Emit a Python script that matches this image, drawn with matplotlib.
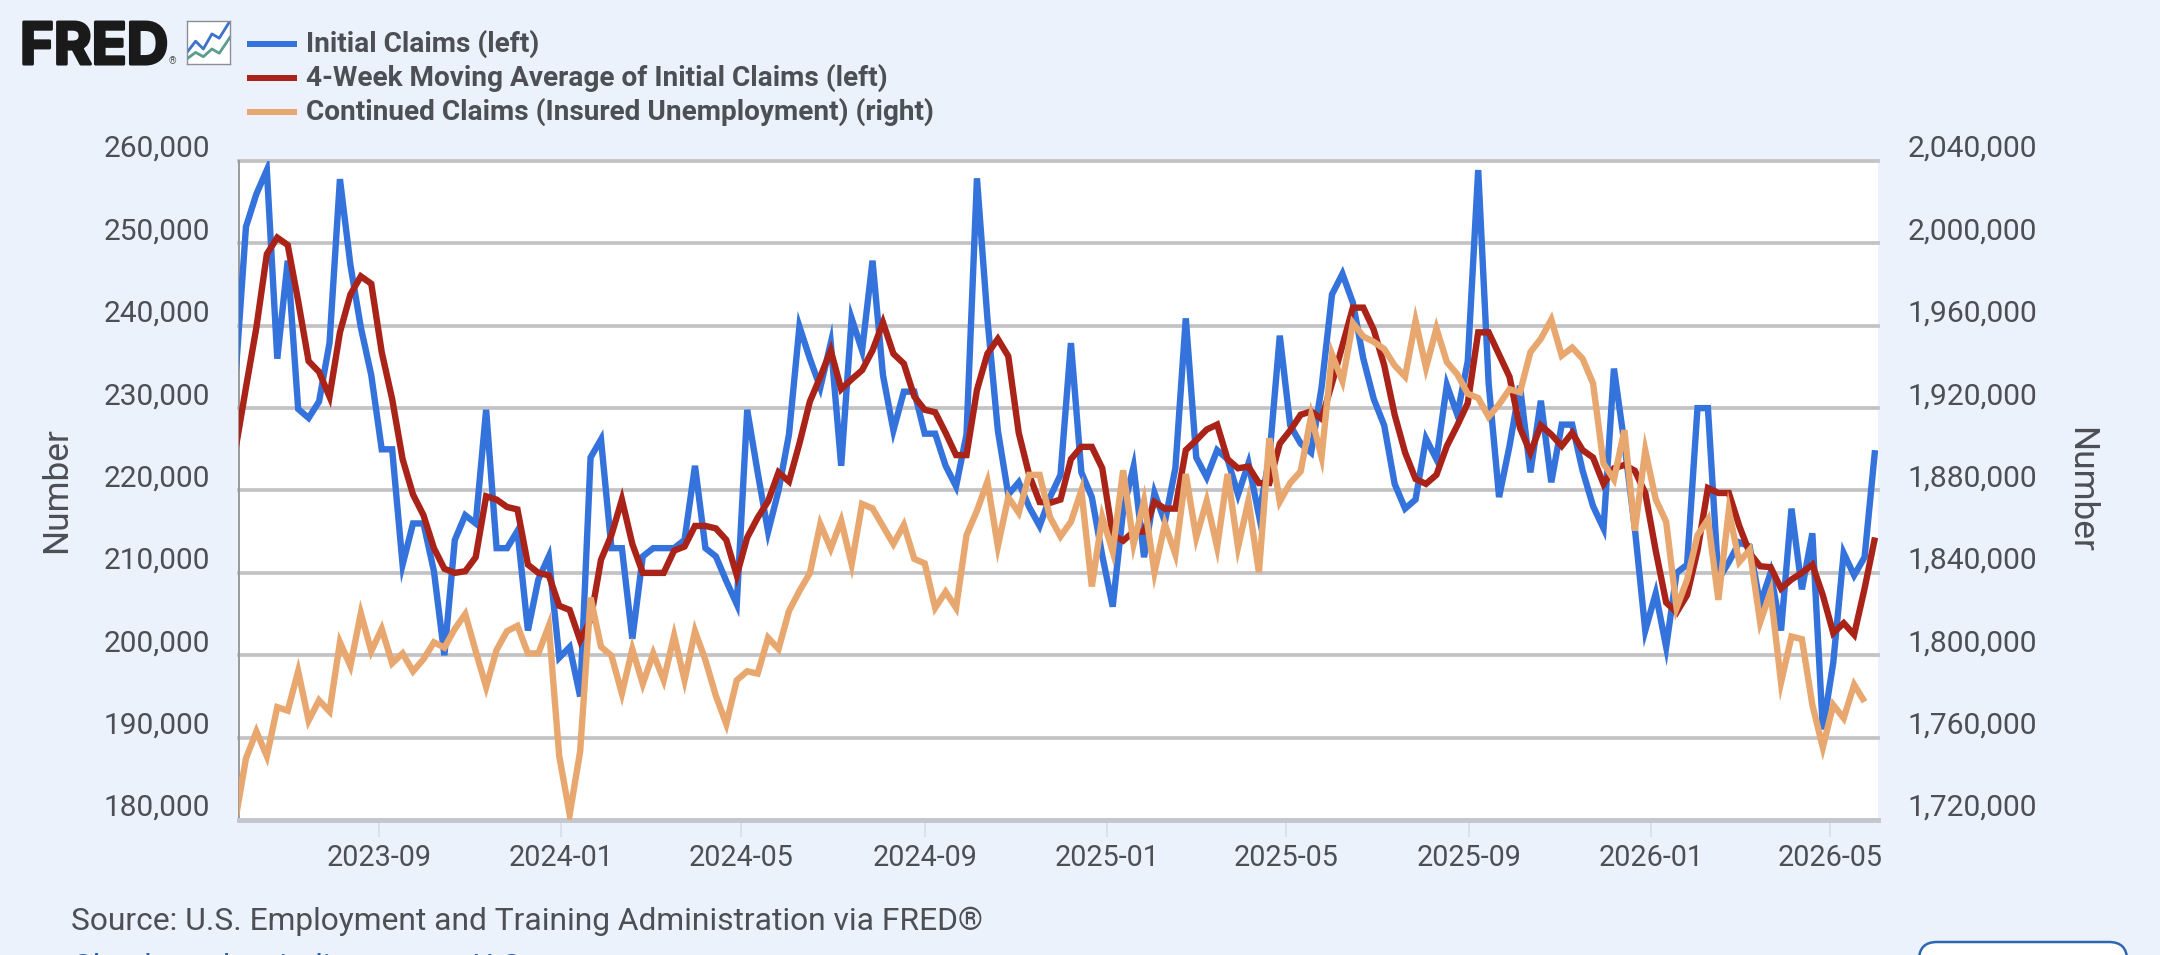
import datetime as dt

import matplotlib
matplotlib.use("Agg")
import matplotlib.dates as mdates
import matplotlib.patheffects as pe
import matplotlib.pyplot as plt
from matplotlib.patches import FancyBboxPatch, Rectangle
from matplotlib.ticker import FuncFormatter
from matplotlib.transforms import IdentityTransform, ScaledTranslation

plt.rcParams["font.family"] = ["Roboto", "DejaVu Sans"]

# Weekly observations, thousands of claims (left axis) and thousands (right axis)
initial_claims = [
    233.8, 252.0, 256.0, 258.9, 236.0, 247.9, 229.9, 228.8, 230.8, 237.9,
    257.8, 247.4, 239.8, 234.0, 225.0, 225.0, 211.0, 216.0, 216.0, 210.2,
    200.0, 214.0, 217.0, 216.0, 229.8, 213.0, 213.0, 215.1, 203.0, 209.2,
    212.0, 199.7, 201.0, 195.0, 224.0, 226.2, 213.0, 213.0, 202.0, 212.0,
    213.0, 213.0, 213.0, 214.0, 223.0, 213.0, 212.0, 209.0, 206.2, 229.8,
    222.2, 215.0, 220.0, 226.8, 239.9, 236.0, 232.5, 237.9, 223.0, 240.9,
    237.0, 247.9, 234.0, 227.3, 232.0, 232.0, 226.9, 226.9, 223.0, 220.5,
    226.8, 257.9, 240.9, 227.3, 219.5, 221.0, 218.0, 215.7, 219.2, 221.9,
    237.9, 222.2, 219.2, 212.1, 205.9, 217.6, 222.9, 211.9, 219.7, 216.2,
    222.7, 240.9, 224.0, 221.6, 224.9, 223.8, 219.5, 223.3, 217.0, 224.0,
    238.8, 227.9, 225.7, 224.6, 232.5, 243.8, 246.3, 242.8, 236.0, 231.1,
    227.9, 220.8, 217.8, 218.9, 226.3, 223.8, 232.8, 229.2, 235.7, 258.9,
    233.0, 219.2, 225.4, 232.7, 222.2, 230.9, 221.0, 228.0, 228.0, 222.4,
    218.1, 215.4, 234.8, 225.7, 215.4, 203.0, 207.5, 201.0, 210.0, 211.0,
    230.0, 230.0, 209.2, 211.3, 213.7, 213.2, 206.2, 210.0, 203.0, 217.8,
    208.0, 214.8, 191.0, 199.1, 212.4, 209.7, 211.9, 224.9,
]
moving_average = [
    225.0, 232.5, 239.8, 248.7, 250.7, 249.8, 243.0, 235.7, 234.4, 231.4,
    239.2, 243.8, 246.0, 245.1, 236.8, 231.1, 223.8, 219.5, 217.0, 213.0,
    210.5, 210.0, 210.2, 211.9, 219.3, 218.9, 218.0, 217.7, 211.0, 210.0,
    209.7, 206.0, 205.5, 201.8, 204.3, 211.6, 214.6, 218.9, 213.5, 210.0,
    210.0, 210.0, 212.7, 213.2, 215.7, 215.7, 215.4, 214.0, 209.7, 214.3,
    216.7, 218.7, 222.2, 221.1, 225.7, 230.8, 233.8, 237.0, 232.3, 233.5,
    234.6, 237.0, 240.4, 236.6, 235.4, 231.4, 229.8, 229.5, 227.0, 224.3,
    224.3, 232.2, 236.6, 238.4, 236.3, 227.0, 221.9, 218.6, 218.5, 218.9,
    223.8, 225.3, 225.3, 222.7, 214.6, 213.9, 215.0, 215.0, 218.6, 217.8,
    217.8, 224.9, 226.1, 227.4, 228.0, 223.8, 222.7, 222.9, 220.9, 220.9,
    225.7, 227.3, 229.2, 229.6, 228.7, 233.0, 237.6, 242.2, 242.2, 239.5,
    235.2, 229.2, 224.6, 221.4, 220.8, 221.9, 225.4, 227.9, 230.6, 239.2,
    239.2, 236.5, 233.8, 227.6, 224.6, 227.9, 226.8, 225.4, 227.0, 224.9,
    224.0, 220.8, 222.7, 223.1, 222.4, 219.7, 212.7, 206.4, 205.2, 207.3,
    212.7, 220.3, 219.7, 219.7, 215.7, 212.4, 210.8, 210.7, 208.1, 209.2,
    210.0, 211.0, 207.3, 202.7, 203.9, 202.5, 208.1, 214.3,
]
continued_claims = [
    1720.4, 1749.9, 1763.0, 1751.0, 1774.8, 1773.1, 1792.2, 1768.3, 1778.1, 1772.7,
    1806.3, 1794.8, 1820.4, 1802.0, 1812.8, 1796.1, 1800.9, 1792.2, 1798.1, 1806.3,
    1803.7, 1812.8, 1820.0, 1802.0, 1784.6, 1802.6, 1811.7, 1814.3, 1800.9, 1800.9,
    1814.3, 1751.0, 1722.8, 1753.2, 1828.0, 1804.1, 1799.8, 1781.4, 1803.0, 1786.1,
    1800.9, 1787.9, 1809.5, 1787.9, 1811.7, 1797.6, 1780.3, 1766.6, 1787.9, 1792.2,
    1791.1, 1808.5, 1803.0, 1821.5, 1831.2, 1839.9, 1863.7, 1851.8, 1865.3, 1844.2,
    1873.5, 1871.3, 1862.7, 1854.0, 1863.3, 1846.8, 1844.6, 1823.0, 1830.8, 1823.0,
    1858.3, 1870.2, 1884.3, 1852.9, 1876.7, 1869.2, 1887.6, 1887.6, 1867.0, 1857.7,
    1864.8, 1880.0, 1833.4, 1867.0, 1850.3, 1889.8, 1854.0, 1875.0, 1840.3, 1863.7,
    1849.0, 1888.0, 1857.2, 1875.0, 1852.5, 1888.0, 1852.5, 1875.0, 1840.3, 1905.4,
    1874.6, 1883.7, 1889.3, 1916.2, 1896.3, 1946.1, 1933.1, 1961.3, 1954.8, 1952.2,
    1948.7, 1940.7, 1935.3, 1962.4, 1939.6, 1958.7, 1942.4, 1936.4, 1927.0, 1924.9,
    1915.8, 1921.8, 1929.2, 1927.7, 1947.2, 1953.7, 1963.0, 1945.5, 1949.4, 1944.0,
    1932.0, 1893.0, 1885.4, 1909.3, 1860.5, 1899.5, 1875.7, 1864.8, 1823.0, 1836.6,
    1858.3, 1865.9, 1826.9, 1870.2, 1845.3, 1851.2, 1816.0, 1830.8, 1786.8, 1809.1,
    1807.8, 1775.9, 1755.3, 1775.9, 1769.4, 1785.7, 1777.4,
]
first_week = dt.date(2023, 5, 28)
left_ticks = [180, 190, 200, 210, 220, 230, 240, 250, 260]
right_ticks = [1720, 1760, 1800, 1840, 1880, 1920, 1960, 2000, 2040]
date_ticks = ["2023-09-01", "2024-01-01", "2024-05-01", "2024-09-01", "2025-01-01",
              "2025-05-01", "2025-09-01", "2026-01-01", "2026-05-01"]
legend_labels = ["Initial Claims (left)",
                 "4-Week Moving Average of Initial Claims (left)",
                 "Continued Claims (Insured Unemployment) (right)"]
source_note = "Source: U.S. Employment and Training Administration via FRED®"

BG = "#ebf2fb"
BLUE = "#3472dc"
RED = "#aa2318"
ORANGE = "#e8a76e"
GRID = "#c3c3c5"
TEXT = "#4c4f54"
W, H = 2160, 955


def week_dates(n):
    return [first_week + dt.timedelta(days=7 * i) for i in range(n)]


fig = plt.figure(figsize=(W / 100, H / 100), dpi=100, facecolor=BG)
ax = fig.add_axes([238.5 / W, 1 - 820 / H, (1878 - 238.5) / W, (820 - 161) / H])
ax.set_facecolor("white")
ax.set_ylim(180, 260)
ax.set_xlim(dt.date(2023, 5, 30), dt.date(2026, 6, 2))
ax.set_yticks(left_ticks)
ax.yaxis.set_major_formatter(FuncFormatter(lambda v, _: f"{int(v * 1000):,}"))
ax.set_xticks([dt.date.fromisoformat(d) for d in date_ticks])
ax.xaxis.set_major_formatter(mdates.DateFormatter("%Y-%m"))

for side in ("top", "right"):
    ax.spines[side].set_visible(False)
ax.spines["left"].set_color("#9a9a9a")
ax.spines["left"].set_linewidth(1.4)
ax.spines["bottom"].set_color("#c4c6cd")
ax.spines["bottom"].set_linewidth(3.5)
ax.grid(axis="y", color=GRID, linewidth=2.7, clip_on=False)
ax.set_axisbelow(True)
ax.tick_params(axis="y", length=0, labelsize=21.5, labelcolor=TEXT, pad=20.3)
ax.tick_params(axis="x", length=12, width=1.1, color="#d3dbe8",
               labelsize=20.7, labelcolor=TEXT, pad=5)

ax2 = ax.twinx()
ax2.set_ylim(1720, 2040)
ax2.set_yticks(right_ticks)
ax2.yaxis.set_major_formatter(FuncFormatter(lambda v, _: f"{int(v * 1000):,}"))
for spine in ax2.spines.values():
    spine.set_visible(False)
ax2.tick_params(axis="y", length=0, labelsize=21.6, labelcolor=TEXT, pad=21.5)

# Value labels sit above their gridlines
raise_labels = ScaledTranslation(0, 15 / 100, fig.dpi_scale_trans)
for lab in list(ax.get_yticklabels()) + list(ax2.get_yticklabels()):
    lab.set_transform(lab.get_transform() + raise_labels)

line_style = dict(linewidth=4.6, solid_joinstyle="miter", solid_capstyle="butt")
ax.plot(week_dates(len(initial_claims)), initial_claims, color=BLUE, zorder=3, **line_style)
ax.plot(week_dates(len(moving_average)), moving_average, color=RED, zorder=4, **line_style)
ax2.plot(week_dates(len(continued_claims)), continued_claims, color=ORANGE, zorder=5, **line_style)

fig.text(57 / W, 1 - 490 / H, "Number", rotation=90, ha="center", va="center",
         fontsize=25.4, color=TEXT)
fig.text(2081 / W, 1 - 490 / H, "Number", rotation=270, ha="center", va="center",
         fontsize=25.4, color=TEXT)


def px_axes(x, y, w, h):
    return fig.add_axes([x / W, 1 - (y + h) / H, w / W, h / H])


# Logo wordmark with its small chart icon
fig.text(20 / W, 1 - 64 / H, "FRED", fontsize=41.5, fontweight="bold", color="#1a1a1a",
         family=["Inter", "DejaVu Sans"], va="baseline",
         path_effects=[pe.withStroke(linewidth=2.2, foreground="#1a1a1a")])
fig.text(169 / W, 1 - 64 / H, "®", fontsize=7, color="#555555", va="baseline")
icon = px_axes(187, 21, 43, 43)
icon.set_facecolor("white")
icon.set_xticks([])
icon.set_yticks([])
icon.set_xlim(0, 1)
icon.set_ylim(0, 1)
for spine in icon.spines.values():
    spine.set_color("#8a8f96")
    spine.set_linewidth(1)
icon.plot([0, .2, .38, .58, .75, 1], [.27, .53, .35, .7, .6, 1], color="#3c72c8", lw=2)
icon.plot([0, .2, .38, .58, .75, 1], [.12, .27, .17, .35, .25, .62], color="#5b9c8e", lw=2)

# Legend entries
for y, colour, label in zip((44, 78, 112), (BLUE, RED, ORANGE), legend_labels):
    fig.add_artist(Rectangle((247 / W, 1 - (y + 3) / H), 50 / W, 6 / H,
                             transform=fig.transFigure, color=colour, lw=0))
    fig.text(306 / W, 1 - y / H, label, fontsize=20.13, fontweight="bold", color=TEXT,
             va="center", ha="left")

fig.text(71 / W, 1 - 921 / H, source_note, fontsize=22.85, color=TEXT, va="center", ha="left")
fig.text(72 / W, 1 - 967 / H, "Check out key indicators on U.S. economy", fontsize=23,
         color="#2a63ad", va="center", ha="left")
# Button whose lower part runs past the bottom edge
fig.add_artist(FancyBboxPatch((1919, -30), 208, 43,
                              boxstyle="round,pad=0,rounding_size=18",
                              transform=IdentityTransform(), facecolor="white",
                              edgecolor="#2f66b3", linewidth=1.8))

fig.savefig("out.png", dpi=100, facecolor=BG)
